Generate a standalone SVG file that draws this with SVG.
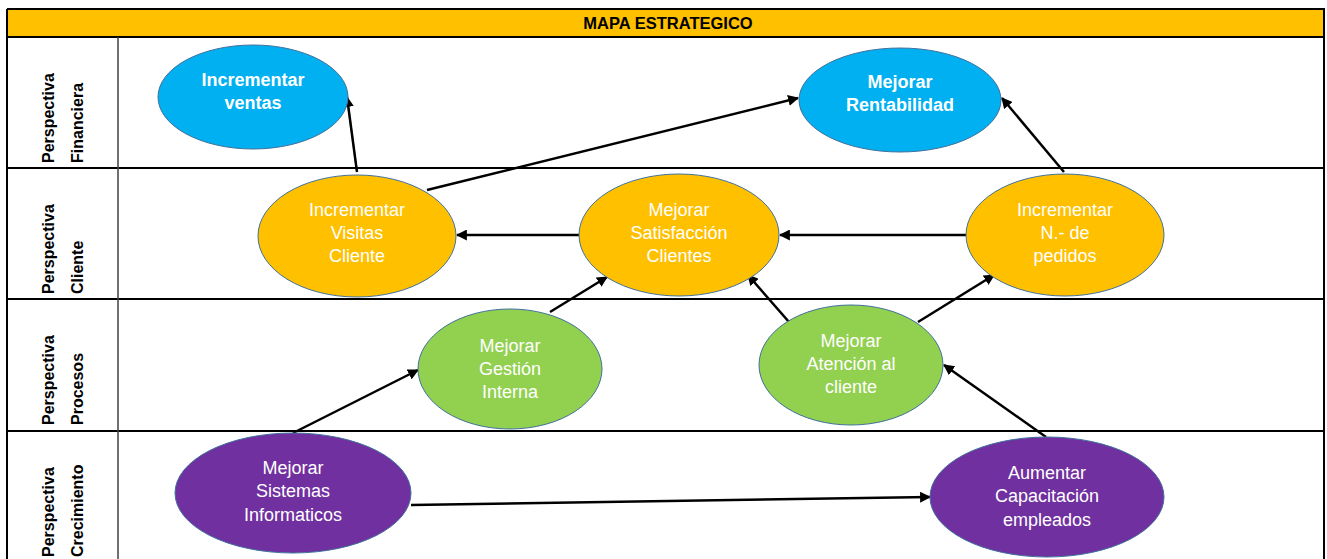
<svg xmlns="http://www.w3.org/2000/svg" width="1327" height="559" viewBox="0 0 1327 559">
<style>
.grid{stroke:#000;stroke-width:2;fill:none}
.node{stroke:#41719C;stroke-width:1}
.blue{fill:#00B0F0}.yel{fill:#FFC000}.grn{fill:#92D050}.pur{fill:#7030A0}
.t{font-family:"Liberation Sans",Arial,sans-serif;font-size:18px;fill:#fff;text-anchor:middle}
.tb{font-weight:bold}
.lbl{font-family:"Liberation Sans",Arial,sans-serif;font-size:16px;font-weight:bold;fill:#000}
.hdr{font-family:"Liberation Sans",Arial,sans-serif;font-size:16.5px;font-weight:bold;fill:#000;text-anchor:middle}
.c{stroke:#000;stroke-width:2.5;fill:none;marker-end:url(#ah)}
</style>
<defs>
<marker id="ah" viewBox="0 0 10 10" refX="9" refY="5" markerWidth="4.4" markerHeight="4.4" orient="auto" markerUnits="strokeWidth">
<path d="M0,0 L10,5 L0,10 z" fill="#000"/>
</marker>
</defs>
<rect x="0" y="0" width="1327" height="559" fill="#fff"/>
<g id="table">
<rect x="7" y="10" width="1317" height="27" fill="#FFC000"/>
<text class="hdr" x="668" y="29">MAPA ESTRATEGICO</text>
<line class="grid" x1="7" y1="9" x2="1325" y2="9"/>
<line class="grid" x1="7" y1="37" x2="1325" y2="37"/>
<line class="grid" x1="7" y1="168" x2="1325" y2="168"/>
<line class="grid" x1="7" y1="299" x2="1325" y2="299"/>
<line class="grid" x1="7" y1="431" x2="1325" y2="431"/>
<line class="grid" x1="7" y1="9" x2="7" y2="559"/>
<line class="grid" x1="1324" y1="9" x2="1324" y2="559"/>
<line x1="118" y1="37" x2="118" y2="559" stroke="#404040" stroke-width="1.5"/>
<g class="lbl">
<text transform="translate(54,163) rotate(-90)">Perspectiva</text>
<text transform="translate(83,163) rotate(-90)">Financiera</text>
<text transform="translate(54,294) rotate(-90)">Perspectiva</text>
<text transform="translate(83,294) rotate(-90)">Cliente</text>
<text transform="translate(54,425) rotate(-90)">Perspectiva</text>
<text transform="translate(83,425) rotate(-90)">Procesos</text>
<text transform="translate(54,557) rotate(-90)">Perspectiva</text>
<text transform="translate(83,557) rotate(-90)">Crecimiento</text>
</g>
</g>
<g id="connectors">
<line class="c" x1="357" y1="172" x2="347" y2="97"/>
<line class="c" x1="427" y1="190" x2="798" y2="98"/>
<line class="c" x1="1064" y1="172" x2="1002" y2="98"/>
<line class="c" x1="580" y1="235" x2="457" y2="235"/>
<line class="c" x1="966" y1="235" x2="780" y2="235"/>
<line class="c" x1="550" y1="312" x2="607" y2="277"/>
<line class="c" x1="789" y1="322" x2="748" y2="275"/>
<line class="c" x1="918" y1="322" x2="994" y2="275"/>
<line class="c" x1="293" y1="433" x2="418" y2="370"/>
<line class="c" x1="1046" y1="437" x2="944" y2="365"/>
<line class="c" x1="411" y1="505" x2="930" y2="497"/>
</g>
<g id="n-incrementar-ventas">
<ellipse class="node blue" cx="253" cy="97" rx="95" ry="52"/>
<text class="t tb" x="253" y="86">Incrementar</text>
<text class="t tb" x="253" y="109">ventas</text>
</g>
<g id="n-mejorar-rentabilidad">
<ellipse class="node blue" cx="900" cy="100" rx="101" ry="52"/>
<text class="t tb" x="900" y="88">Mejorar</text>
<text class="t tb" x="900" y="111">Rentabilidad</text>
</g>
<g id="n-visitas">
<ellipse class="node yel" cx="357" cy="236" rx="99" ry="61"/>
<text class="t" x="357" y="216">Incrementar</text>
<text class="t" x="357" y="239">Visitas</text>
<text class="t" x="357" y="262">Cliente</text>
</g>
<g id="n-satisfaccion">
<ellipse class="node yel" cx="679" cy="235" rx="100" ry="61"/>
<text class="t" x="679" y="216">Mejorar</text>
<text class="t" x="679" y="239">Satisfacción</text>
<text class="t" x="679" y="262">Clientes</text>
</g>
<g id="n-pedidos">
<ellipse class="node yel" cx="1065" cy="235" rx="99" ry="61"/>
<text class="t" x="1065" y="216">Incrementar</text>
<text class="t" x="1065" y="239">N.- de</text>
<text class="t" x="1065" y="262">pedidos</text>
</g>
<g id="n-gestion">
<ellipse class="node grn" cx="510" cy="369" rx="92" ry="60"/>
<text class="t" x="510" y="352">Mejorar</text>
<text class="t" x="510" y="375">Gestión</text>
<text class="t" x="510" y="398">Interna</text>
</g>
<g id="n-atencion">
<ellipse class="node grn" cx="851" cy="365" rx="92" ry="60"/>
<text class="t" x="851" y="347">Mejorar</text>
<text class="t" x="851" y="370">Atención al</text>
<text class="t" x="851" y="393">cliente</text>
</g>
<g id="n-sistemas">
<ellipse class="node pur" cx="293" cy="493" rx="118" ry="60"/>
<text class="t" x="293" y="474">Mejorar</text>
<text class="t" x="293" y="497">Sistemas</text>
<text class="t" x="293" y="521">Informaticos</text>
</g>
<g id="n-capacitacion">
<ellipse class="node pur" cx="1047" cy="497" rx="117" ry="60"/>
<text class="t" x="1047" y="479">Aumentar</text>
<text class="t" x="1047" y="502">Capacitación</text>
<text class="t" x="1047" y="526">empleados</text>
</g>
</svg>
